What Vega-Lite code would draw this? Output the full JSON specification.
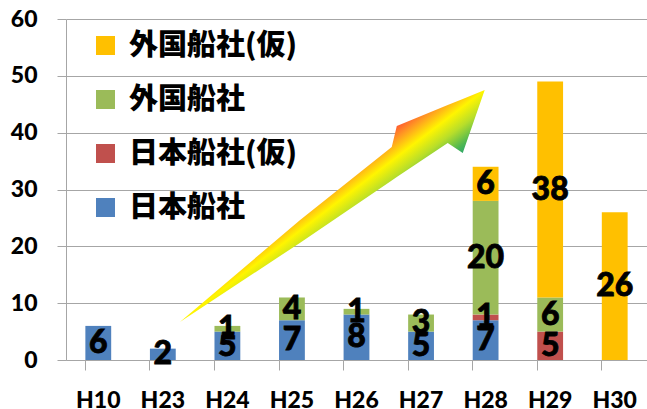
{
  "$schema": "https://vega.github.io/schema/vega-lite/v6.json",
  "width": 581,
  "height": 341,
  "autosize": {"type": "none"},
  "padding": {"left": 66, "top": 19, "right": 0, "bottom": 49},
  "background": "white",
  "config": {
    "view": {"stroke": null},
    "axis": {"labelFont": "Lato", "labelFontWeight": 900, "labelFontSize": 23, "labelColor": "#000000"}
  },
  "datasets": {
    "bars": [
      {"year": "H10", "series": "日本船社", "k": 1, "value": 6},
      {"year": "H23", "series": "日本船社", "k": 1, "value": 2},
      {"year": "H24", "series": "日本船社", "k": 1, "value": 5},
      {"year": "H24", "series": "外国船社", "k": 3, "value": 1},
      {"year": "H25", "series": "日本船社", "k": 1, "value": 7},
      {"year": "H25", "series": "外国船社", "k": 3, "value": 4},
      {"year": "H26", "series": "日本船社", "k": 1, "value": 8},
      {"year": "H26", "series": "外国船社", "k": 3, "value": 1},
      {"year": "H27", "series": "日本船社", "k": 1, "value": 5},
      {"year": "H27", "series": "外国船社", "k": 3, "value": 3},
      {"year": "H28", "series": "日本船社", "k": 1, "value": 7},
      {"year": "H28", "series": "日本船社(仮)", "k": 2, "value": 1},
      {"year": "H28", "series": "外国船社", "k": 3, "value": 20},
      {"year": "H28", "series": "外国船社(仮)", "k": 4, "value": 6},
      {"year": "H29", "series": "日本船社(仮)", "k": 2, "value": 5},
      {"year": "H29", "series": "外国船社", "k": 3, "value": 6},
      {"year": "H29", "series": "外国船社(仮)", "k": 4, "value": 38},
      {"year": "H30", "series": "外国船社(仮)", "k": 4, "value": 26}
    ],
    "arrow": [
      {"ax": 1.765, "top": 6.69, "bottom": 6.69},
      {"ax": 3.622, "top": 24.6, "bottom": 20.6},
      {"ax": 5.046, "top": 37.48, "bottom": 31.6},
      {"ax": 5.124, "top": 41.18, "bottom": 32.2},
      {"ax": 5.913, "top": 44.87, "bottom": 38.18},
      {"ax": 6.146, "top": 45.93, "bottom": 36.42},
      {"ax": 6.486, "top": 47.51, "bottom": 47.51}
    ]
  },
  "layer": [
    {
      "data": {"name": "bars"},
      "layer": [
        {
          "mark": {"type": "bar"},
          "encoding": {
            "x": {
              "field": "year", "type": "nominal", "sort": null,
              "scale": {"paddingInner": 0.6, "paddingOuter": 0.3},
              "axis": {"title": null, "labelAngle": 0, "bandPosition": 0, "ticks": true, "tickSize": 10, "tickColor": "#A6A6A6", "domainColor": "#A6A6A6", "labelPadding": 19, "grid": false}
            },
            "y": {
              "field": "value", "type": "quantitative", "stack": "zero",
              "scale": {"domain": [0, 60], "nice": false},
              "axis": {"title": null, "values": [0, 10, 20, 30, 40, 50, 60], "grid": true, "gridColor": "#A6A6A6", "tickColor": "#A6A6A6", "tickSize": 9, "domainColor": "#A6A6A6", "labelPadding": 20}
            },
            "color": {
              "field": "series", "type": "nominal",
              "scale": {"domain": ["外国船社(仮)", "外国船社", "日本船社(仮)", "日本船社"], "range": ["#FFC000", "#9BBB59", "#C0504D", "#4F81BD"]},
              "legend": {
                "title": null, "orient": "none", "legendX": 25, "legendY": 12, "padding": 0,
                "symbolType": "square", "symbolSize": 361, "symbolStrokeWidth": 0, "symbolOpacity": 1,
                "labelFont": "Noto Sans CJK JP", "labelFontWeight": 900, "labelFontSize": 29, "labelColor": "#000000",
                "labelOffset": 9, "rowPadding": 24, "labelLimit": 400
              }
            },
            "order": {"field": "k", "type": "quantitative"}
          }
        },
        {
          "mark": {"type": "text", "font": "Lato", "fontWeight": 900, "fontSize": 32, "color": "#000000", "stroke": "#000000", "strokeWidth": 0.8, "baseline": "middle", "align": "center"},
          "encoding": {
            "x": {"field": "year", "type": "nominal", "sort": null},
            "y": {"field": "value", "type": "quantitative", "stack": "zero", "bandPosition": 0.5},
            "text": {"field": "value", "type": "quantitative"},
            "detail": {"field": "series"},
            "order": {"field": "k", "type": "quantitative"}
          }
        }
      ]
    },
    {
      "data": {"name": "arrow"},
      "mark": {
        "type": "area",
        "color": {
          "gradient": "linear", "x1": 0, "y1": 0, "x2": 1, "y2": 1,
          "stops": [
            {"offset": 0.43, "color": "#FF5533"},
            {"offset": 0.46, "color": "#FF9A22"},
            {"offset": 0.5, "color": "#FFF500"},
            {"offset": 0.54, "color": "#B8DE2A"},
            {"offset": 0.58, "color": "#50B850"},
            {"offset": 0.61, "color": "#1FA077"}
          ]
        }
      },
      "encoding": {
        "x": {"field": "ax", "type": "quantitative", "scale": {"domain": [0, 9], "nice": false, "zero": false}, "axis": null},
        "y": {"field": "top", "type": "quantitative", "stack": null},
        "y2": {"field": "bottom"}
      }
    }
  ],
  "resolve": {"scale": {"x": "independent"}, "axis": {"x": "independent"}}
}
